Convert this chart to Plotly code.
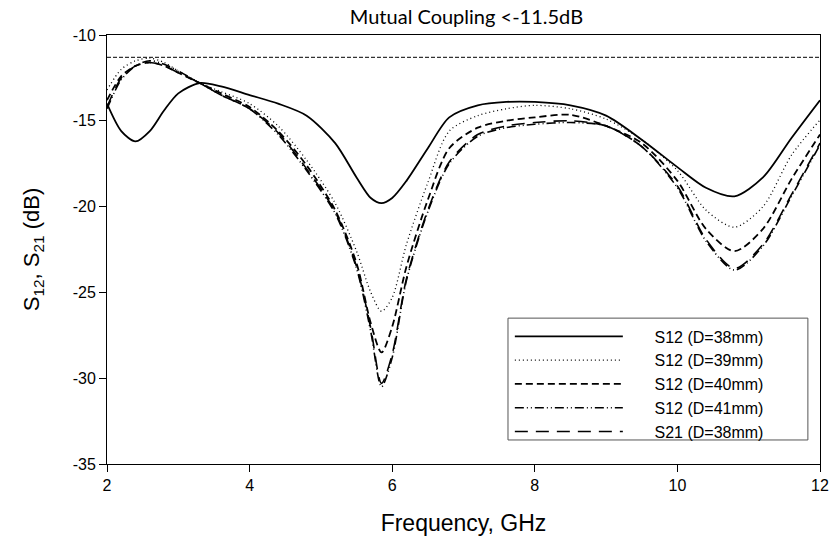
import plotly.graph_objects as go

freq = [2.0, 2.2, 2.4, 2.6, 2.8, 3.0, 3.3, 3.6, 4.0, 4.4, 4.8, 5.2, 5.5, 5.7, 5.85,
        6.0, 6.2, 6.5, 6.8, 7.2, 7.6, 8.0, 8.5, 9.0, 9.5, 10.0, 10.4, 10.8, 11.2, 11.6, 12.0]

s12_d38 = [-14.0, -15.6, -16.2, -15.6, -14.4, -13.4, -12.8, -13.0, -13.5, -14.0, -14.7,
           -16.3, -18.3, -19.5, -19.8, -19.5, -18.5, -16.6, -14.8, -14.1, -13.9, -13.9,
           -14.1, -14.7, -16.1, -17.7, -18.9, -19.4, -18.3, -16.0, -13.8]
s12_d39 = [-13.2, -12.0, -11.5, -11.35, -11.6, -12.1, -12.8, -13.3, -14.0, -15.3, -17.3,
           -19.8, -22.6, -25.0, -26.1, -25.3, -22.2, -18.6, -15.6, -14.7, -14.3, -14.1,
           -14.3, -14.9, -16.1, -17.9, -20.2, -21.2, -20.0, -17.0, -14.95]
s12_d40 = [-13.8, -12.4, -11.8, -11.6, -11.8, -12.2, -12.8, -13.4, -14.2, -15.6, -17.6,
           -20.2, -23.3, -26.8, -28.5, -27.0, -23.5, -19.6, -16.6, -15.4, -15.0, -14.8,
           -14.65, -15.3, -16.3, -18.5, -21.3, -22.6, -21.3, -18.4, -15.8]
s12_d41 = [-14.3, -12.6, -11.8, -11.5, -11.7, -12.1, -12.8, -13.5, -14.3, -15.8, -17.9,
           -20.4, -23.6, -27.3, -30.5, -28.8, -24.3, -20.3, -17.5, -15.9, -15.4, -15.2,
           -15.1, -15.3, -16.5, -18.9, -22.0, -23.7, -22.3, -19.4, -16.4]
s21_d38 = [-14.2, -12.5, -11.8, -11.6, -11.8, -12.2, -12.8, -13.5, -14.3, -15.7, -17.8,
           -20.3, -23.5, -27.1, -30.3, -28.6, -24.2, -20.2, -17.4, -15.8, -15.3, -15.1,
           -15.0, -15.3, -16.5, -18.8, -21.9, -23.6, -22.2, -19.3, -16.3]

series_names = ["S12 (D=38mm)", "S12 (D=39mm)", "S12 (D=40mm)", "S12 (D=41mm)", "S21 (D=38mm)"]
series_values = [s12_d38, s12_d39, s12_d40, s12_d41, s21_d38]
series_dash = ["solid", "1px,3px", "7px,4px", "9px,3px,1px,3px,1px,3px", "13px,8px"]
series_width = [1.8, 1.3, 1.8, 1.6, 1.6]

threshold = -11.3
x_ticks = [2, 4, 6, 8, 10, 12]
y_ticks = [-35, -30, -25, -20, -15, -10]

NB = "\u00a0"

fig = go.Figure()
for name, vals, dash, w in zip(series_names, series_values, series_dash, series_width):
    fig.add_trace(go.Scatter(
        x=freq, y=vals, mode="lines", name=NB * 6 + name,
        line=dict(color="black", width=w, dash=dash, shape="spline", smoothing=0.8),
    ))

fig.add_shape(type="line", xref="paper", x0=0, x1=1, yref="y", y0=threshold, y1=threshold,
              line=dict(color="black", width=1, dash="4px,2px"))
# legend frame
fig.add_shape(type="rect", xref="paper", yref="paper", x0=0.5624, x1=0.983, y0=0.056, y1=0.340,
              line=dict(color="#555555", width=1), fillcolor="white", layer="above")

tickfont = dict(family="Liberation Sans, Arial", size=16, color="black")

fig.update_layout(
    width=830, height=536,
    margin=dict(l=107, r=10, t=35, b=72),
    paper_bgcolor="white", plot_bgcolor="white",
    title=dict(text="Mutual Coupling &lt;-11.5dB", x=0.562, xanchor="center", y=0.982, yanchor="top",
               font=dict(family="Lato, Open Sans, Liberation Sans", size=20, color="black")),
    showlegend=True,
    legend=dict(x=0.565, y=0.337, xanchor="left", yanchor="top",
                borderwidth=0, bgcolor="rgba(0,0,0,0)",
                font=dict(family="Liberation Sans, Arial", size=16, color="black"),
                itemwidth=108, tracegroupgap=0),
    xaxis=dict(range=[2, 12], tickvals=x_ticks, ticktext=[str(v) for v in x_ticks],
               showgrid=False, zeroline=False, showline=True, linecolor="black", linewidth=1,
               mirror=True, ticks="outside", ticklen=7, tickcolor="black", tickfont=tickfont,
               automargin=False,
               title=dict(text="Frequency, GHz", standoff=22,
                          font=dict(family="Liberation Sans, Arial", size=23, color="black"))),
    yaxis=dict(range=[-35, -10], tickvals=y_ticks, ticktext=[str(v) for v in y_ticks],
               showgrid=False, zeroline=False, showline=True, linecolor="black", linewidth=1,
               mirror=True, ticks="outside", ticklen=7, tickcolor="black", tickfont=tickfont,
               automargin=False,
               title=dict(text="S<sub>12</sub>, S<sub>21</sub> (dB)", standoff=26,
                          font=dict(family="Liberation Sans, Arial", size=22, color="black"))),
)

fig.write_html("out.html", config={"displayModeBar": False},
               post_script="document.body.style.margin='0';document.body.style.overflow='hidden';")
